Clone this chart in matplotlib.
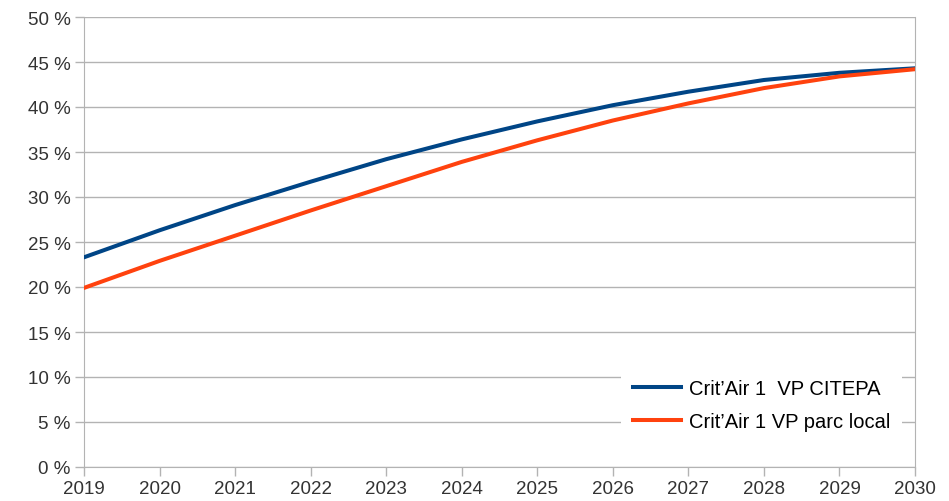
import matplotlib.pyplot as plt
from matplotlib.ticker import FuncFormatter

plt.rcParams['font.family'] = ['Liberation Sans', 'DejaVu Sans']

years = [2019, 2020, 2021, 2022, 2023, 2024, 2025, 2026, 2027, 2028, 2029, 2030]
citepa = [23.3, 26.3, 29.1, 31.7, 34.2, 36.4, 38.4, 40.2, 41.7, 43.0, 43.8, 44.3]
local = [19.9, 22.9, 25.7, 28.5, 31.2, 33.9, 36.3, 38.5, 40.4, 42.1, 43.4, 44.2]
labels = ['Crit\u2019Air 1  VP CITEPA', 'Crit\u2019Air 1 VP parc local']

fig = plt.figure(figsize=(9.49, 5.02), dpi=100)
ax = fig.add_axes([84/949, 34/502, 831/949, 450/502])

ax.plot(years, citepa, color='#004586', lw=2.9, label=labels[0], zorder=3)
ax.plot(years, local, color='#ff420e', lw=2.9, label=labels[1], zorder=3)

ax.set_xlim(2019, 2030)
ax.set_ylim(0, 50)
ax.set_xticks(years)
ax.set_yticks(range(0, 51, 5))
ax.yaxis.set_major_formatter(FuncFormatter(lambda v, p: '%d %%' % v))
ax.grid(axis='y', color='#b3b3b3', lw=1)
ax.set_axisbelow(True)
for s in ax.spines.values():
    s.set_color('#b3b3b3')
ax.spines['top'].set_visible(False)
ax.tick_params(colors='#b3b3b3', labelcolor='#333333', labelsize=13.5, length=6.5, width=1, pad=3)

leg = ax.legend(loc='lower right', bbox_to_anchor=(0.997, 0.03), frameon=True,
                fontsize=14.5, handlelength=2.4, handletextpad=0.4,
                labelspacing=0.72, borderpad=0.6)
leg.get_frame().set_edgecolor('none')
leg.get_frame().set_facecolor('white')
leg.get_frame().set_alpha(1)
leg.get_frame().set_boxstyle('square', pad=0)

fig.savefig('out.png', dpi=100)
